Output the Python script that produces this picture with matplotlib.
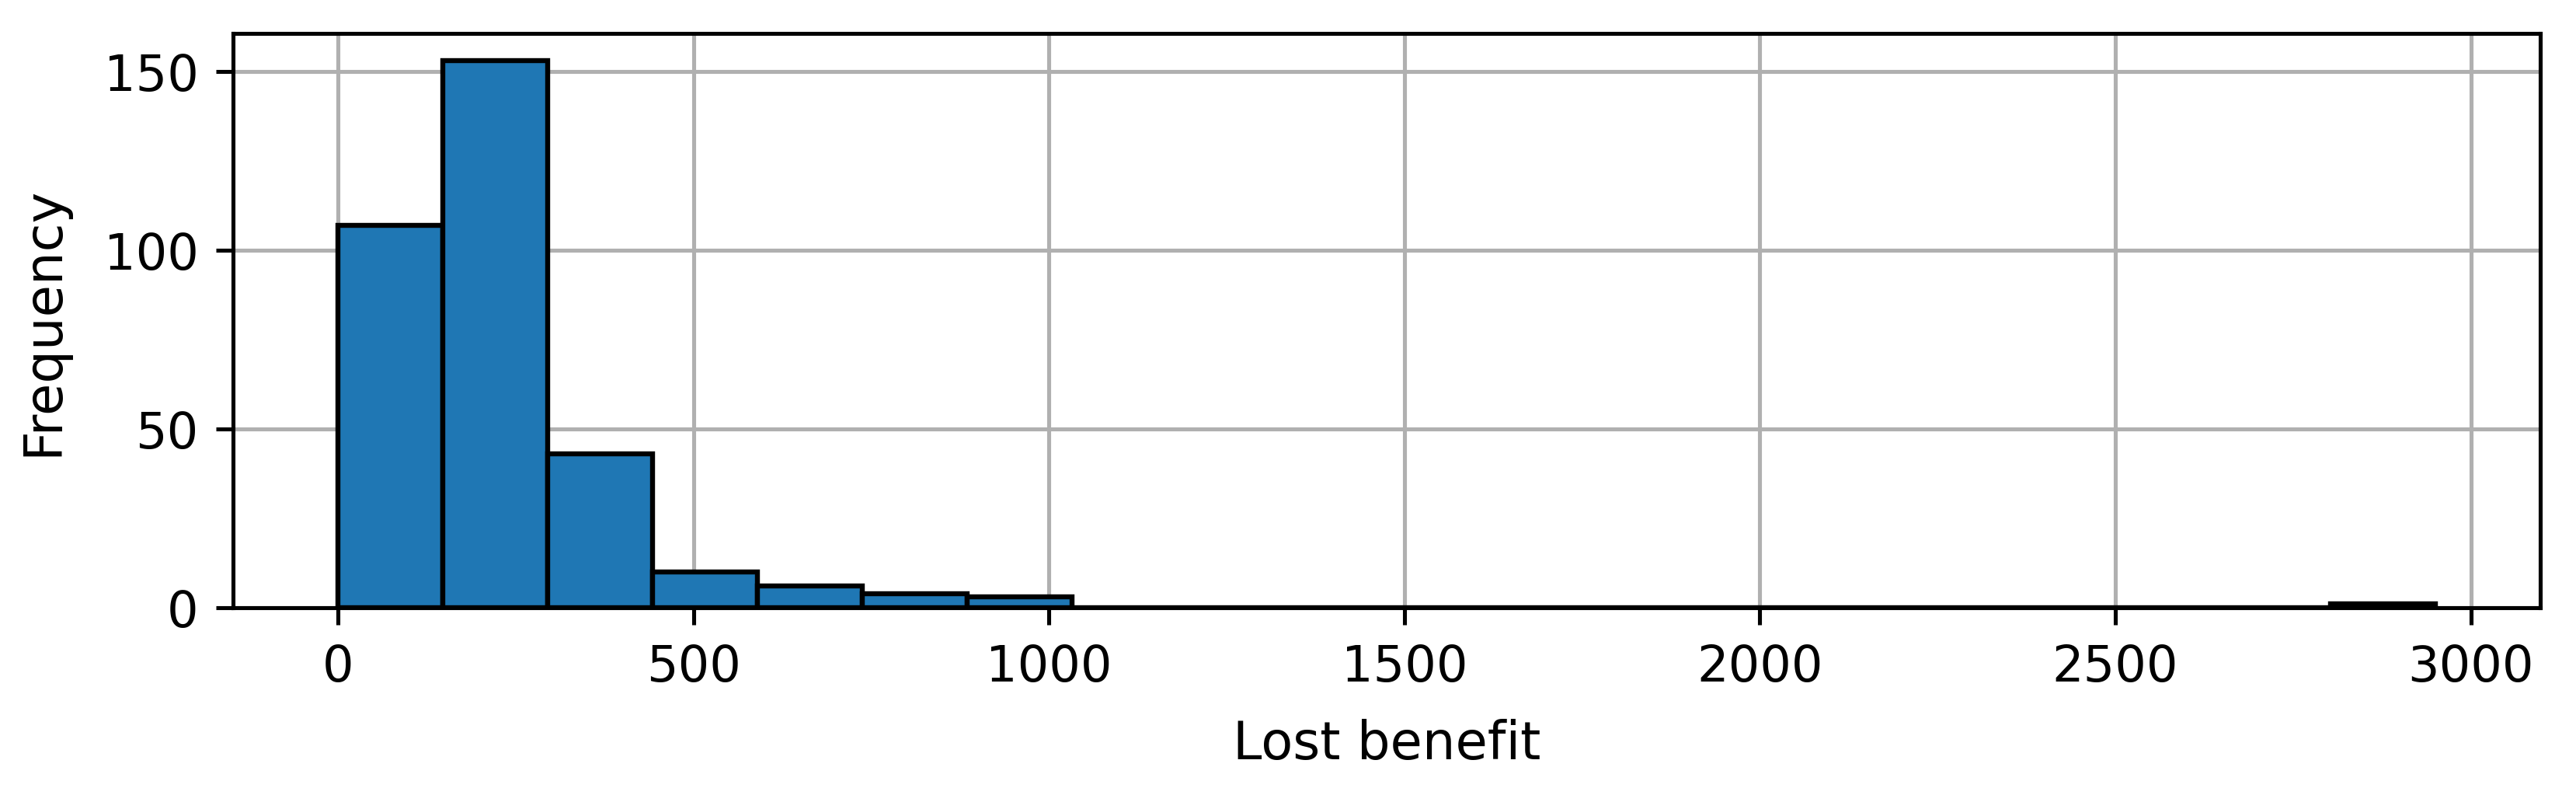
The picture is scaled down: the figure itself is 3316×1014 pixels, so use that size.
import numpy as np
import matplotlib
matplotlib.use('Agg')
import matplotlib.pyplot as plt

# histogram of lost benefit: 20 equal bins between min and max
data_min = 0
data_max = 2950
n_bins = 20
counts = [107, 153, 43, 10, 6, 4, 3, 0, 0, 0, 0, 0, 0, 0, 0, 0, 0, 0, 0, 1]

edges = np.linspace(data_min, data_max, n_bins + 1)
centers = (edges[:-1] + edges[1:]) / 2

dpi = 460
fig = plt.figure(figsize=(3316 / dpi, 1015 / dpi), dpi=dpi)
ax = fig.add_axes([0.0905, 0.2286, 0.9861 - 0.0905, 0.9567 - 0.2286])

ax.hist(centers, bins=edges, weights=counts, color='#1f77b4', edgecolor='black')
ax.grid(True)
ax.set_axisbelow(True)

ax.set_xlabel('Lost benefit', fontsize=10.5, labelpad=5.5)
ax.set_ylabel('Frequency', fontsize=10.5, labelpad=7)

fig.savefig('out.png', dpi=dpi)
